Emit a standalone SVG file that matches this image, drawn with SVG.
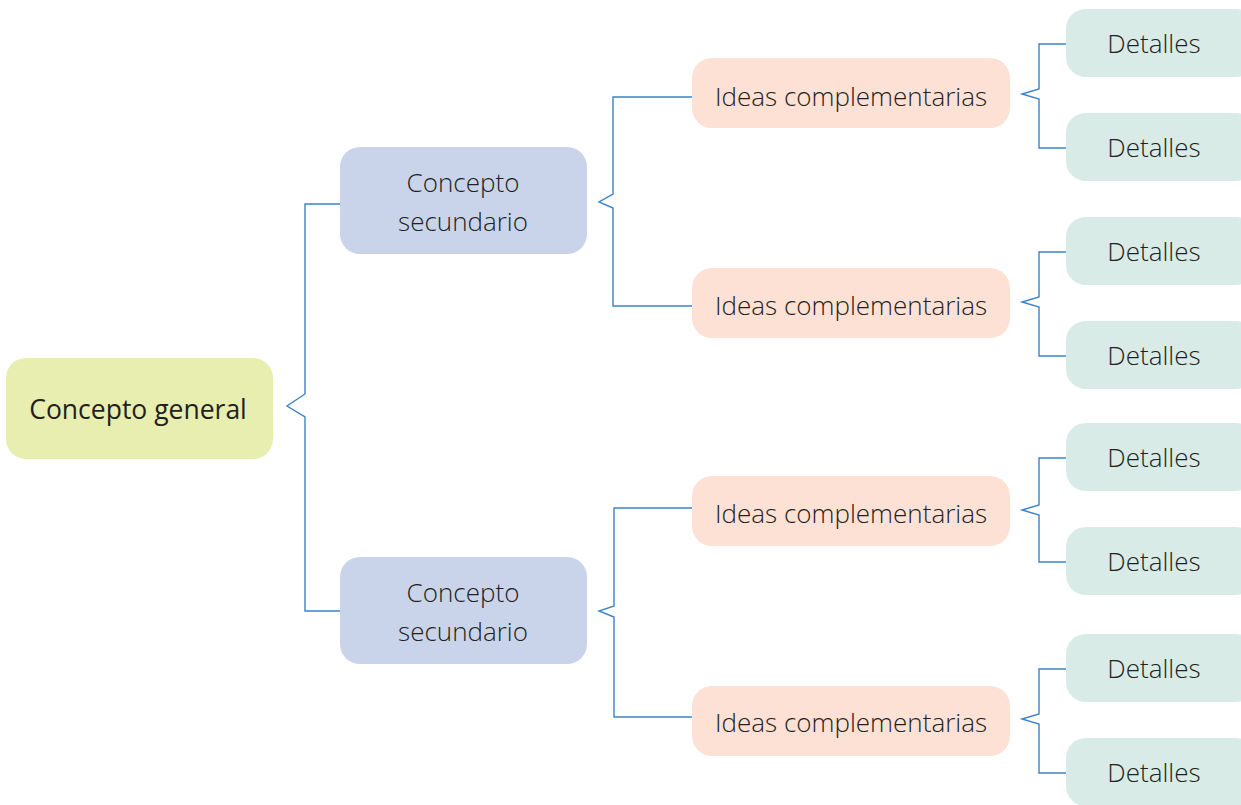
<svg xmlns="http://www.w3.org/2000/svg" width="1241" height="805" viewBox="0 0 1241 805">
<style>
.gen{fill:#e8eeb0}
.sec{fill:#c9d4eb}
.idea{fill:#fde1d5}
.det{fill:#d9ebe7}
text{font-family:"Open Sans","Liberation Sans",sans-serif;fill:#231f20;text-anchor:middle;dominant-baseline:central}
.l{font-weight:300;font-size:26px}
.r{font-weight:400;font-size:26.5px}
.c path{fill:none;stroke:#3b84c9;stroke-width:1.4}
</style>
<rect width="1241" height="805" fill="#fff"/>
<g class="c" id="connectors">
<path d="M340,204 H305 V394 L287,406 L305,417 V611 H340"/>
<path d="M692,97 H613 V194 L599,202 L613,208 V306 H692"/>
<path d="M692,508 H614 V606 L599,611 L614,617 V717 H692"/>
<path d="M1066,44 H1039 V89 L1022,94 L1039,99 V148 H1066"/>
<path d="M1066,252 H1039 V297 L1022,302 L1039,307 V356 H1066"/>
<path d="M1066,458 H1039 V505 L1022,510 L1039,515 V562 H1066"/>
<path d="M1066,669 H1039 V714 L1022,719 L1039,724 V773 H1066"/>
</g>
<g id="n-general"><rect class="gen" x="6" y="358" width="267" height="101" rx="20"/><text class="r" x="138" y="409">Concepto general</text></g>
<g id="n-sec1"><rect class="sec" x="340" y="147" width="247" height="107" rx="20"/><text class="l" x="463" y="182">Concepto</text><text class="l" x="463" y="221">secundario</text></g>
<g id="n-sec2"><rect class="sec" x="340" y="557" width="247" height="107" rx="20"/><text class="l" x="463" y="592">Concepto</text><text class="l" x="463" y="631">secundario</text></g>
<g id="n-idea1"><rect class="idea" x="692" y="58" width="318" height="70" rx="20"/><text class="l" x="851" y="96">Ideas complementarias</text></g>
<g id="n-idea2"><rect class="idea" x="692" y="268" width="318" height="70" rx="20"/><text class="l" x="851" y="305">Ideas complementarias</text></g>
<g id="n-idea3"><rect class="idea" x="692" y="476" width="318" height="70" rx="20"/><text class="l" x="851" y="513">Ideas complementarias</text></g>
<g id="n-idea4"><rect class="idea" x="692" y="686" width="318" height="70" rx="20"/><text class="l" x="851" y="722">Ideas complementarias</text></g>
<g id="n-det1"><rect class="det" x="1066" y="9" width="190" height="68" rx="20"/><text class="l" x="1154" y="43">Detalles</text></g>
<g id="n-det2"><rect class="det" x="1066" y="113" width="190" height="68" rx="20"/><text class="l" x="1154" y="147">Detalles</text></g>
<g id="n-det3"><rect class="det" x="1066" y="217" width="190" height="68" rx="20"/><text class="l" x="1154" y="251">Detalles</text></g>
<g id="n-det4"><rect class="det" x="1066" y="321" width="190" height="68" rx="20"/><text class="l" x="1154" y="355">Detalles</text></g>
<g id="n-det5"><rect class="det" x="1066" y="423" width="190" height="68" rx="20"/><text class="l" x="1154" y="457">Detalles</text></g>
<g id="n-det6"><rect class="det" x="1066" y="527" width="190" height="68" rx="20"/><text class="l" x="1154" y="561">Detalles</text></g>
<g id="n-det7"><rect class="det" x="1066" y="634" width="190" height="68" rx="20"/><text class="l" x="1154" y="668">Detalles</text></g>
<g id="n-det8"><rect class="det" x="1066" y="738" width="190" height="68" rx="20"/><text class="l" x="1154" y="772">Detalles</text></g>
</svg>
